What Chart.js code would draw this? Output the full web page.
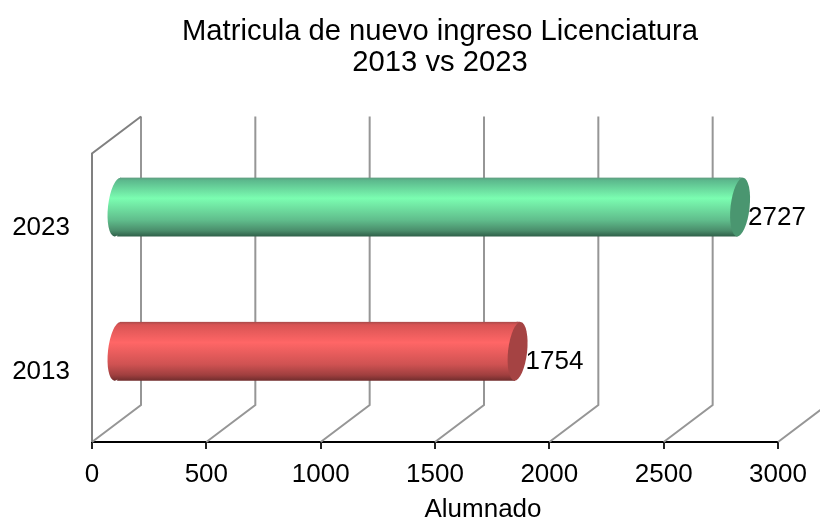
<!DOCTYPE html>
<html>
<head>
<meta charset="utf-8">
<script src="https://cdn.jsdelivr.net/npm/chart.js@4"></script>
<style>
    html, body { margin: 0; padding: 0; background: #fff; overflow: hidden; }
    canvas { display: block; }
</style>
</head>
<body>
<canvas id="chart" width="820" height="523"></canvas>
<script>
const categories = ['2023', '2013'];
const alumnado = [2727, 1754];
const xTicks = [0, 500, 1000, 1500, 2000, 2500, 3000];
const titleLines = ['Matricula de nuevo ingreso Licenciatura', '2013 vs 2023'];
const xTitle = 'Alumnado';

const FONT = '"Liberation Sans", Arial, sans-serif';
const FONT_SIZE = 26;

// depth of the fake 3D box
const DEPTH_X = 49;
const DEPTH_Y = 37;
const BAR_H = 59;
const CAP_RX = 9.5;
const CAP_TILT = 0.11;
const CAP_SLANT = 2.6;

const barStops = [
    [[0, '#5f9c80'], [0.05, '#5cb98d'], [0.35, '#7bfdb1'], [0.72, '#60bd8c'], [0.9, '#4a8d6b'], [1, '#2f5f48']],
    [[0, '#a84a4a'], [0.05, '#d85454'], [0.35, '#ff6666'], [0.72, '#cf5252'], [0.9, '#a03f3f'], [1, '#6f2c2c']]
];
const capColors = ['#4a9670', '#a54343'];

function barGradient(chart, index) {
    const cy = chart.scales.y.getPixelForValue(index);
    // options can get resolved before the layout is done
    if (!Number.isFinite(cy)) return '#888';
    const g = chart.ctx.createLinearGradient(0, cy - BAR_H / 2, 0, cy + BAR_H / 2);
    barStops[index].forEach(s => g.addColorStop(s[0], s[1]));
    return g;
}

function drawCap(ctx, x, y, fill) {
    ctx.beginPath();
    ctx.ellipse(x, y, CAP_RX, BAR_H / 2, CAP_TILT, 0, Math.PI * 2);
    ctx.fillStyle = fill;
    ctx.fill();
}

// back wall, floor and grid lines
const wallPlugin = {
    id: 'wall',
    afterLayout(chart) {
        // the title sits a bit right of the canvas middle
        chart.titleBlock.left = 60;
    },
    beforeDatasetsDraw(chart) {
        const { ctx, chartArea, scales } = chart;
        const bottom = chartArea.bottom;
        ctx.save();
        ctx.lineWidth = 2;
        ctx.strokeStyle = '#969696';
        xTicks.forEach(t => {
            const x = scales.x.getPixelForValue(t);
            ctx.beginPath();
            ctx.moveTo(x, bottom);
            ctx.lineTo(x + DEPTH_X, bottom - DEPTH_Y);
            ctx.lineTo(x + DEPTH_X, chartArea.top - DEPTH_Y);
            ctx.stroke();
        });
        ctx.strokeStyle = '#808080';
        ctx.beginPath();
        ctx.moveTo(chartArea.left, bottom);
        ctx.lineTo(chartArea.left, chartArea.top);
        ctx.lineTo(chartArea.left + DEPTH_X, chartArea.top - DEPTH_Y);
        ctx.stroke();
        ctx.restore();
    }
};

// cylinders: the bar itself is drawn by Chart.js, pushed into the box middle
const cylinderPlugin = {
    id: 'cylinder',
    beforeDatasetDraw(chart, args) {
        const { ctx } = chart;
        ctx.save();
        ctx.translate(DEPTH_X / 2, -DEPTH_Y / 2);
        args.meta.data.forEach((bar, i) => {
            drawCap(ctx, bar.base, bar.y, barGradient(chart, i));
            // small wedge so the body reaches the slanted far end
            ctx.beginPath();
            ctx.moveTo(bar.x - 1, bar.y - BAR_H / 2);
            ctx.lineTo(bar.x + CAP_SLANT, bar.y - BAR_H / 2);
            ctx.lineTo(bar.x - 1, bar.y);
            ctx.closePath();
            ctx.fillStyle = barGradient(chart, i);
            ctx.fill();
        });
        // cut the square bar ends to the slant of the caps
        ctx.save();
        ctx.beginPath();
        args.meta.data.forEach(bar => {
            const top = bar.y - BAR_H / 2;
            const low = bar.y + BAR_H / 2;
            ctx.moveTo(bar.base + CAP_SLANT, top);
            ctx.lineTo(bar.x + CAP_SLANT, top);
            ctx.lineTo(bar.x - CAP_SLANT, low);
            ctx.lineTo(bar.base - CAP_SLANT, low);
            ctx.closePath();
        });
        ctx.clip();
    },
    afterDatasetDraw(chart, args) {
        const { ctx } = chart;
        ctx.restore();
        args.meta.data.forEach((bar, i) => {
            drawCap(ctx, bar.x, bar.y, capColors[i]);
        });
        ctx.restore();

        // value labels
        ctx.save();
        ctx.fillStyle = '#000';
        ctx.font = FONT_SIZE + 'px ' + FONT;
        ctx.textAlign = 'left';
        ctx.textBaseline = 'middle';
        args.meta.data.forEach((bar, i) => {
            ctx.fillText(String(alumnado[i]), bar.x + DEPTH_X / 2 + 8, bar.y - 8);
        });
        ctx.restore();
    },
    afterDraw(chart) {
        const { ctx } = chart;
        ctx.save();
        ctx.fillStyle = '#000';
        ctx.font = FONT_SIZE + 'px ' + FONT;
        ctx.textAlign = 'center';
        ctx.textBaseline = 'middle';
        ctx.fillText(xTitle, 483, 510);
        ctx.restore();
    }
};

new Chart(document.getElementById('chart'), {
    type: 'bar',
    data: {
        labels: categories,
        datasets: [{
            label: xTitle,
            data: alumnado,
            barThickness: BAR_H,
            borderWidth: 0,
            backgroundColor: c => barGradient(c.chart, c.dataIndex)
        }]
    },
    options: {
        indexAxis: 'y',
        responsive: false,
        animation: false,
        layout: { padding: 0 },
        plugins: {
            legend: { display: false },
            tooltip: { enabled: false },
            title: {
                display: true,
                text: titleLines,
                color: '#000',
                font: { family: FONT, size: 29.2, weight: 'normal', lineHeight: 1.07 },
                padding: { top: 16, bottom: 75 }
            }
        },
        scales: {
            x: {
                type: 'linear',
                min: 0,
                max: 3000,
                afterBuildTicks: s => { s.ticks = xTicks.map(v => ({ value: v })); },
                afterFit: s => { s.height = 81; s.paddingRight = 42; },
                grid: { drawOnChartArea: false, drawTicks: true, tickLength: 7, color: '#222', lineWidth: 2 },
                border: { color: '#000', width: 2 },
                ticks: {
                    color: '#000',
                    padding: 10,
                    maxRotation: 0,
                    autoSkip: false,
                    font: { family: FONT, size: FONT_SIZE },
                    callback: v => String(v)
                }
            },
            y: {
                afterFit: s => { s.width = 92; },
                grid: { display: false },
                border: { display: false },
                ticks: { color: '#000', padding: 14, labelOffset: 2, crossAlign: 'near', font: { family: FONT, size: FONT_SIZE } }
            }
        }
    },
    plugins: [wallPlugin, cylinderPlugin]
});
</script>
</body>
</html>
